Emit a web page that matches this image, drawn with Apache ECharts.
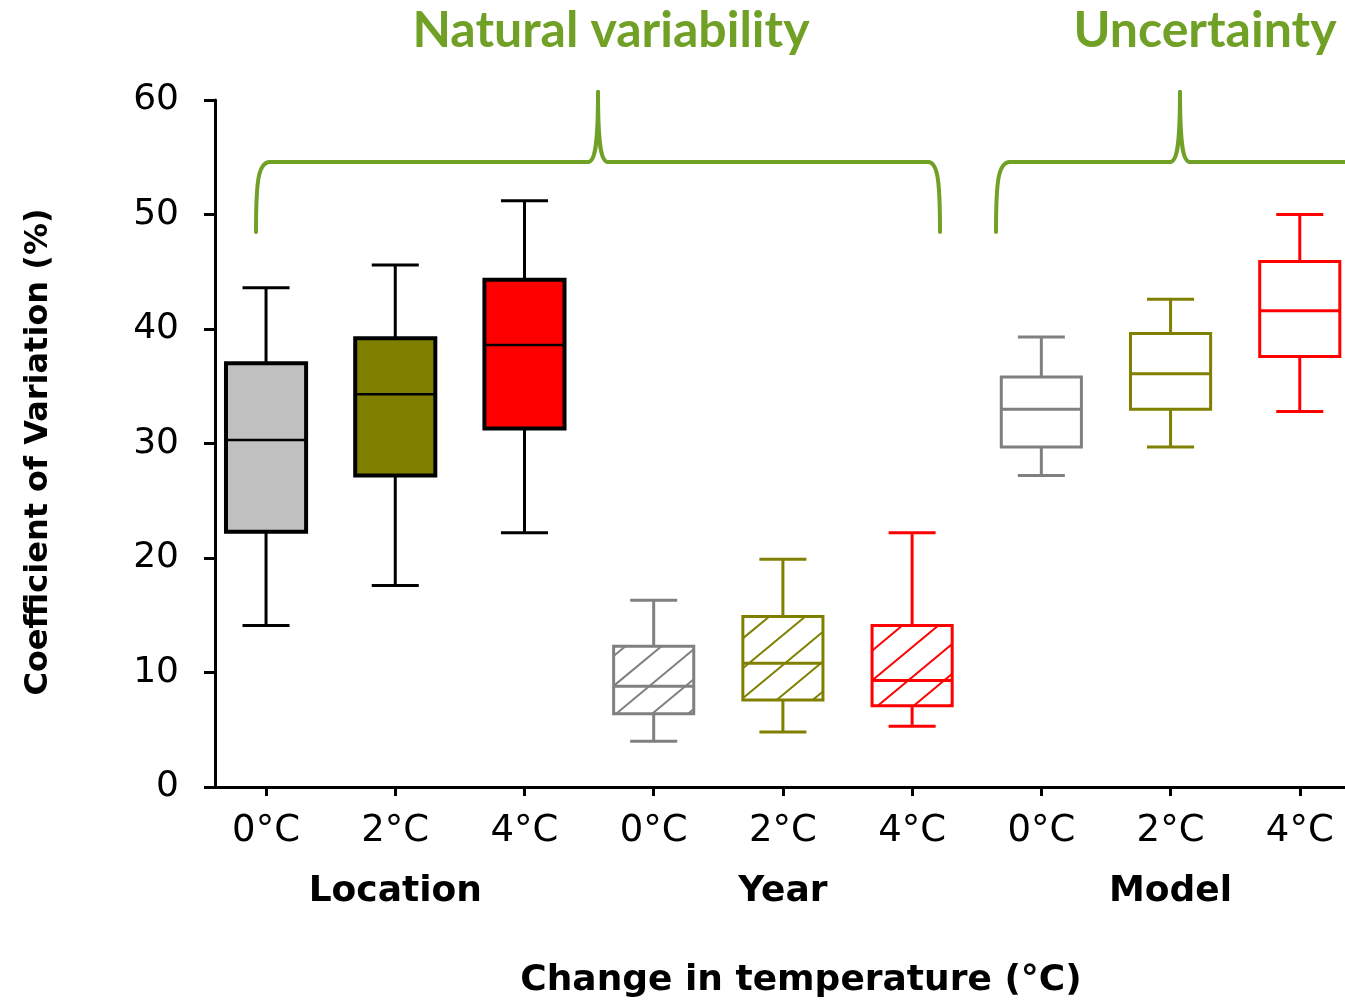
<!DOCTYPE html>
<html><head><meta charset="utf-8">
<script src="https://cdn.jsdelivr.net/npm/echarts@6/dist/echarts.min.js"></script>
<style>html,body{margin:0;padding:0;background:#fff}#c{width:1345px;height:1002px}</style>
</head><body><div id="c"></div>
<script>
// ---- data ----
const categories  = ['0°C','2°C','4°C','0°C','2°C','4°C','0°C','2°C','4°C'];
const groupNames  = ['Location','Year','Model'];
const positions   = [1,2,3,4,5,6,7,8,9];
const whiskerLow  = [14.1, 17.6, 22.2,  4.0,  4.8,  5.3, 27.2, 29.7, 32.8];
const quartile1   = [22.3, 27.2, 31.3,  6.4,  7.6,  7.1, 29.7, 33.0, 37.6];
const medians     = [30.3, 34.3, 38.6,  8.8, 10.8,  9.3, 33.0, 36.1, 41.6];
const quartile3   = [37.0, 39.2, 44.3, 12.3, 14.9, 14.1, 35.8, 39.6, 45.9];
const whiskerHigh = [43.6, 45.6, 51.2, 16.3, 19.9, 22.2, 39.3, 42.6, 50.0];
const yTicks      = [0,10,20,30,40,50,60];

// ---- styles ----
const tempColors = ['#808080','#808000','#ff0000'];
const tempFills  = ['#c0c0c0','#808000','#ff0000'];
const green = '#71a027';

const boxData = positions.map((p,i)=>[p, whiskerLow[i], quartile1[i], medians[i], quartile3[i], whiskerHigh[i]]);

function hatchSegments(x0,y0,x1,y1,k,stepX){
  const segs=[]; const step=stepX*k;
  const cMin=y0+k*x0, cMax=y1+k*x1;
  for(let c=Math.ceil(cMin/step)*step; c<=cMax; c+=step){
    const xa=Math.max(x0,(c-y1)/k), xb=Math.min(x1,(c-y0)/k);
    if(xb-xa>0.5) segs.push([xa,c-k*xa,xb,c-k*xb]);
  }
  return segs;
}

function renderBox(params, api){
  const idx = params.dataIndex;
  const group = Math.floor(idx/3), temp = idx%3;
  const x = api.value(0);
  const pLow = api.coord([x, api.value(1)]);
  const pQ1  = api.coord([x, api.value(2)]);
  const pMed = api.coord([x, api.value(3)]);
  const pQ3  = api.coord([x, api.value(4)]);
  const pHigh= api.coord([x, api.value(5)]);
  const bw = api.size([0.62,0])[0];
  const cw = api.size([0.364,0])[0];
  const cx = pQ1[0];
  const lineCol = group===0 ? '#000000' : tempColors[temp];
  const fill = group===0 ? tempFills[temp] : '#ffffff';
  const lw = 3;
  const ch = [];
  ch.push({type:'line', shape:{x1:cx,y1:pHigh[1],x2:cx,y2:pQ3[1]}, style:{stroke:lineCol,lineWidth:lw}});
  ch.push({type:'line', shape:{x1:cx,y1:pQ1[1],x2:cx,y2:pLow[1]}, style:{stroke:lineCol,lineWidth:lw}});
  ch.push({type:'line', shape:{x1:cx-cw/2,y1:pHigh[1],x2:cx+cw/2,y2:pHigh[1]}, style:{stroke:lineCol,lineWidth:lw}});
  ch.push({type:'line', shape:{x1:cx-cw/2,y1:pLow[1],x2:cx+cw/2,y2:pLow[1]}, style:{stroke:lineCol,lineWidth:lw}});
  const rx=cx-bw/2, ry=pQ3[1], rh=pQ1[1]-pQ3[1];
  ch.push({type:'rect', shape:{x:rx,y:ry,width:bw,height:rh}, style:{fill:fill,stroke:null}});
  if(group===1){
    hatchSegments(rx,ry,rx+bw,ry+rh,0.83,36).forEach(s=>{
      ch.push({type:'line', shape:{x1:s[0],y1:s[1],x2:s[2],y2:s[3]}, style:{stroke:lineCol,lineWidth:2}});
    });
  }
  ch.push({type:'rect', shape:{x:rx,y:ry,width:bw,height:rh}, style:{fill:null,stroke:lineCol,lineWidth:group===0?4:3}});
  ch.push({type:'line', shape:{x1:rx,y1:pMed[1],x2:rx+bw,y2:pMed[1]}, style:{stroke:lineCol,lineWidth:group===0?2.5:3}});
  return {type:'group', children:ch};
}

const chart = echarts.init(document.getElementById('c'), null, {renderer:'canvas'});

function bez(x1,y1,cx1,cy1,cx2,cy2,x2,y2){
  return {type:'bezierCurve', shape:{x1,y1,cpx1:cx1,cpy1:cy1,cpx2:cx2,cpy2:cy2,x2,y2}, style:{stroke:green,lineWidth:4,fill:null,lineCap:'round'}, silent:true};
}
function ln(x1,y1,x2,y2){
  return {type:'line', shape:{x1,y1,x2,y2}, style:{stroke:green,lineWidth:4,lineCap:'round'}, silent:true};
}

const option = {
  backgroundColor:'#ffffff',
  animation:false,
  grid:{left:215, right:0, top:100, bottom:215, containLabel:false},
  xAxis:{
    type:'value', min:0.605, max:9.35,
    splitLine:{show:false},
    axisLine:{show:true, onZero:false, lineStyle:{color:'#000',width:3}},
    axisTick:{show:true, length:9, lineStyle:{color:'#000',width:3}, customValues:positions},
    axisLabel:{
      show:true, margin:22, customValues:positions, color:'#000',
      fontFamily:'DejaVu Sans', fontSize:37,
      formatter:function(v){
        const i=Math.round(v)-1;
        const t='{t|'+categories[i]+'}';
        return (i%3===1) ? t+'\n{g|'+groupNames[Math.floor(i/3)]+'}' : t;
      },
      rich:{
        t:{fontFamily:'DejaVu Sans', fontSize:37, lineHeight:44, color:'#000'},
        g:{fontFamily:'DejaVu Sans', fontWeight:'bold', fontSize:36, lineHeight:78, color:'#000'}
      }
    }
  },
  yAxis:{
    type:'value', min:0, max:60, interval:10,
    splitLine:{show:false},
    axisLine:{show:true, lineStyle:{color:'#000',width:3}},
    axisTick:{show:true, length:11, lineStyle:{color:'#000',width:3}},
    axisLabel:{margin:36, color:'#000', fontFamily:'DejaVu Sans', fontSize:36,
      formatter:function(v){ return yTicks.indexOf(v)>=0 ? String(v) : ''; }}
  },
  series:[{
    type:'custom', renderItem:renderBox, data:boxData, clip:true,
    encode:{x:0, y:[1,2,3,4,5]}
  }],
  graphic:[
    {type:'text', x:611, y:31, silent:true, style:{text:'Natural variability', fill:green, font:'bold 50px Lato', align:'center', verticalAlign:'middle'}},
    {type:'text', x:1205, y:31, silent:true, style:{text:'Uncertainty', fill:green, font:'bold 50px Lato', align:'center', verticalAlign:'middle'}},
    // brace 1
    bez(256,232, 256,182, 258,162, 270,162),
    ln(270,162,588,162),
    bez(588,162, 596,162, 598,140, 598,92),
    bez(598,92, 598,140, 600,162, 608,162),
    ln(608,162,928,162),
    bez(928,162, 938,162, 940,182, 940,232),
    // brace 2
    bez(996,232, 996,182, 998,162, 1010,162),
    ln(1010,162,1170,162),
    bez(1170,162, 1178,162, 1180,140, 1180,92),
    bez(1180,92, 1180,140, 1182,162, 1190,162),
    ln(1190,162,1350,162),
    // axis names
    {type:'text', x:801, y:981, silent:true, style:{text:'Change in temperature (°C)', fill:'#000', font:'bold 36px "DejaVu Sans"', align:'center', verticalAlign:'middle'}},
    {type:'text', x:39, y:452, rotation:Math.PI/2, silent:true, style:{text:'Coefficient of Variation (%)', fill:'#000', font:'bold 32px "DejaVu Sans"', align:'center', verticalAlign:'middle'}}
  ]
};
chart.setOption(option);
</script>
</body></html>
